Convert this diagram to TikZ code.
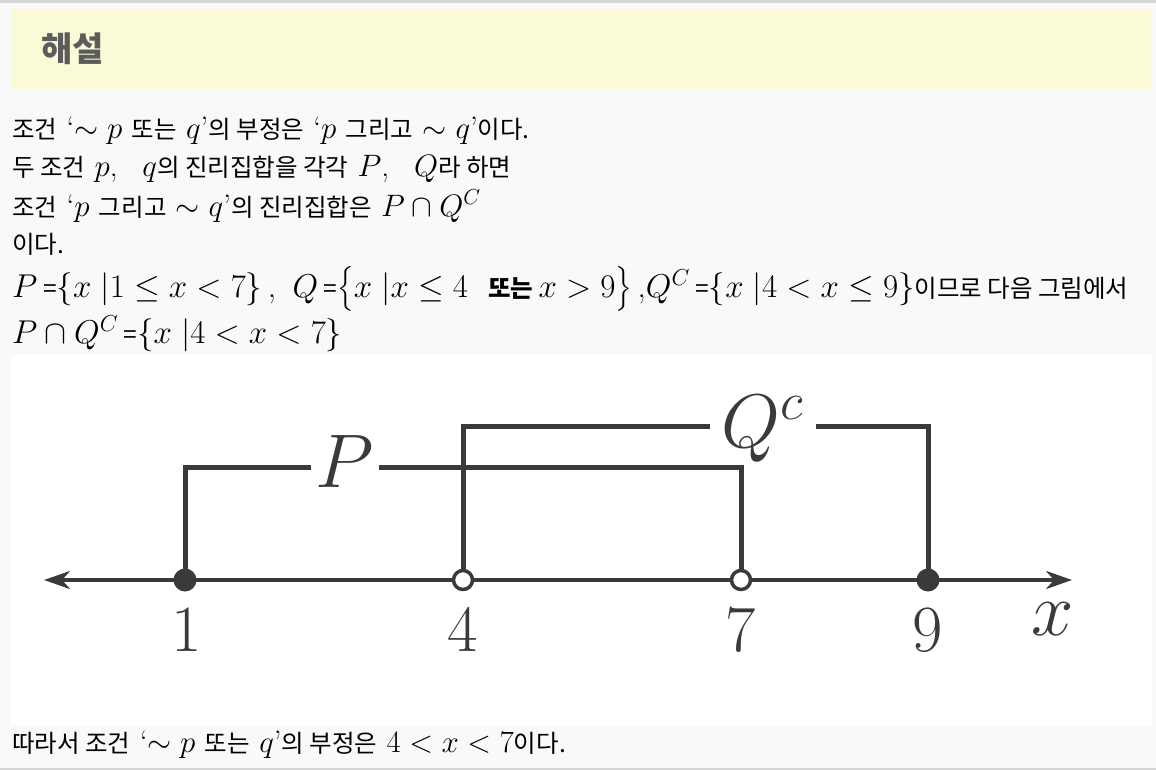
\RequirePackage{fix-cm}
\documentclass[tikz,border=0pt]{standalone}
\usepackage{amsmath}
\usepackage{fontspec}
\newfontfamily\krfont{Noto Sans CJK KR}
\usetikzlibrary{arrows.meta}
\definecolor{bgc}{HTML}{F9F9F9}
\definecolor{hdrc}{HTML}{FAFAD6}
\definecolor{rulec}{HTML}{D6D6D6}
\definecolor{figc}{HTML}{3A3A3A}
\definecolor{hdrtxt}{HTML}{5C5C5C}
\newcommand\kr[1]{{\fontsize{24.5}{28}\selectfont\krfont #1}}
\newcommand\lqm{‘}
\newcommand\rqm{’}
\begin{document}
\begin{tikzpicture}[x=1pt,y=-1pt,
  txt/.style={anchor=base west, inner sep=0pt, text=black, font=\fontsize{31}{36}\selectfont},
  bigtxt/.style={txt, font=\fontsize{33}{38}\selectfont},
  brk/.style={draw=figc, line width=5pt},
  axisln/.style={draw=figc, line width=3.5pt, {Stealth[length=26pt,width=18pt,inset=8pt]}-{Stealth[length=26pt,width=18pt,inset=8pt]}},
  fdot/.style={circle, fill=figc, minimum size=23pt, inner sep=0pt},
  odot/.style={circle, fill=white, draw=figc, line width=3.5pt, minimum size=19pt, inner sep=0pt},
  numlbl/.style={anchor=base, inner sep=0pt, text=figc, font=\fontsize{66}{70}\selectfont},
  letlbl/.style={anchor=base, inner sep=0pt, text=figc, font=\fontsize{76}{80}\selectfont}]
\useasboundingbox (0,0) rectangle (1156,770);
\fill[bgc] (0,0) rectangle (1156,770);
\fill[rulec] (0,0.5) rectangle (1156,3);
\fill[rulec] (0,767.5) rectangle (1156,770);
% header
\fill[hdrc] (12,9) rectangle (1152,89);
\node[anchor=west, inner sep=0pt, text=hdrtxt, font=\fontsize{34}{38}\selectfont\krfont\bfseries] (hdr) at (41,49) {해설};
% text lines
\node[txt] (t1) at (12,139) {\kr{조건} \lqm$\sim p$ \kr{또는} $q$\rqm\kr{의 부정은} \lqm$p$ \kr{그리고} $\sim q$\rqm\kr{이다.}};
\node[txt] (t2) at (12,177) {\kr{두 조건} $p$,\hspace{0.8em}$q$\kr{의 진리집합을 각각} $P$,\hspace{0.8em}$Q$\kr{라 하면}};
\node[txt] (t3) at (12,216) {\kr{조건} \lqm$p$ \kr{그리고} $\sim q$\rqm\kr{의 진리집합은} $P\cap Q^C$};
\node[txt] (t4) at (12,253) {\kr{이다.}};
\node[bigtxt] (t5) at (12,297) {$P$\kr{ =}$\{x\;|1\le x<7\}$\,,\enspace $Q$\kr{ =}$\bigl\{x\;|x\le 4\ \ \text{\kr{\bfseries 또는}}\,x>9\bigr\}$\,,$Q^C$\kr{ =}$\{x\;|4<x\le 9\}$\kr{이므로 다음 그림에서}};
\node[bigtxt] (t6) at (12,343) {$P\cap Q^C$\kr{ =}$\{x\;|4<x<7\}$};
\node[txt] (t7) at (12,752) {\kr{따라서 조건} \lqm$\sim p$ \kr{또는} $q$\rqm\kr{의 부정은} $4<x<7$\kr{이다.}};
% figure panel
\fill[white] (11,355) rectangle (1152,726);
% axis
\coordinate (axl) at (44,580);
\coordinate (axr) at (1072,580);
\draw[axisln] (axl) -- (axr);
\coordinate (c1) at (185,580);
\coordinate (c4) at (463,580);
\coordinate (c7) at (741,580);
\coordinate (c9) at (928,580);
% P bracket
\coordinate (pa) at (311,467);
\coordinate (pb) at (379,467);
\draw[brk] (c1) |- (pa);
\draw[brk] (pb) -| (c7);
% Q^c bracket
\coordinate (qa) at (710,426);
\coordinate (qb) at (816,426);
\draw[brk] (c4) |- (qa);
\draw[brk] (qb) -| (c9);
% dots
\node[fdot] (d1) at (c1) {};
\node[odot] (d4) at (c4) {};
\node[odot] (d7) at (c7) {};
\node[fdot] (d9) at (c9) {};
% labels
\node[letlbl] (lp) at (345,487) {$P$};
\node[letlbl] (lq) at (762,447) {$Q^c$};
\node[letlbl] (lx) at (1053,635) {$x$};
\node[numlbl] (n1) at (187,651) {$1$};
\node[numlbl] (n4) at (463,651) {$4$};
\node[numlbl] (n7) at (741,651) {$7$};
\node[numlbl] (n9) at (928,651) {$9$};
\end{tikzpicture}
\end{document}
